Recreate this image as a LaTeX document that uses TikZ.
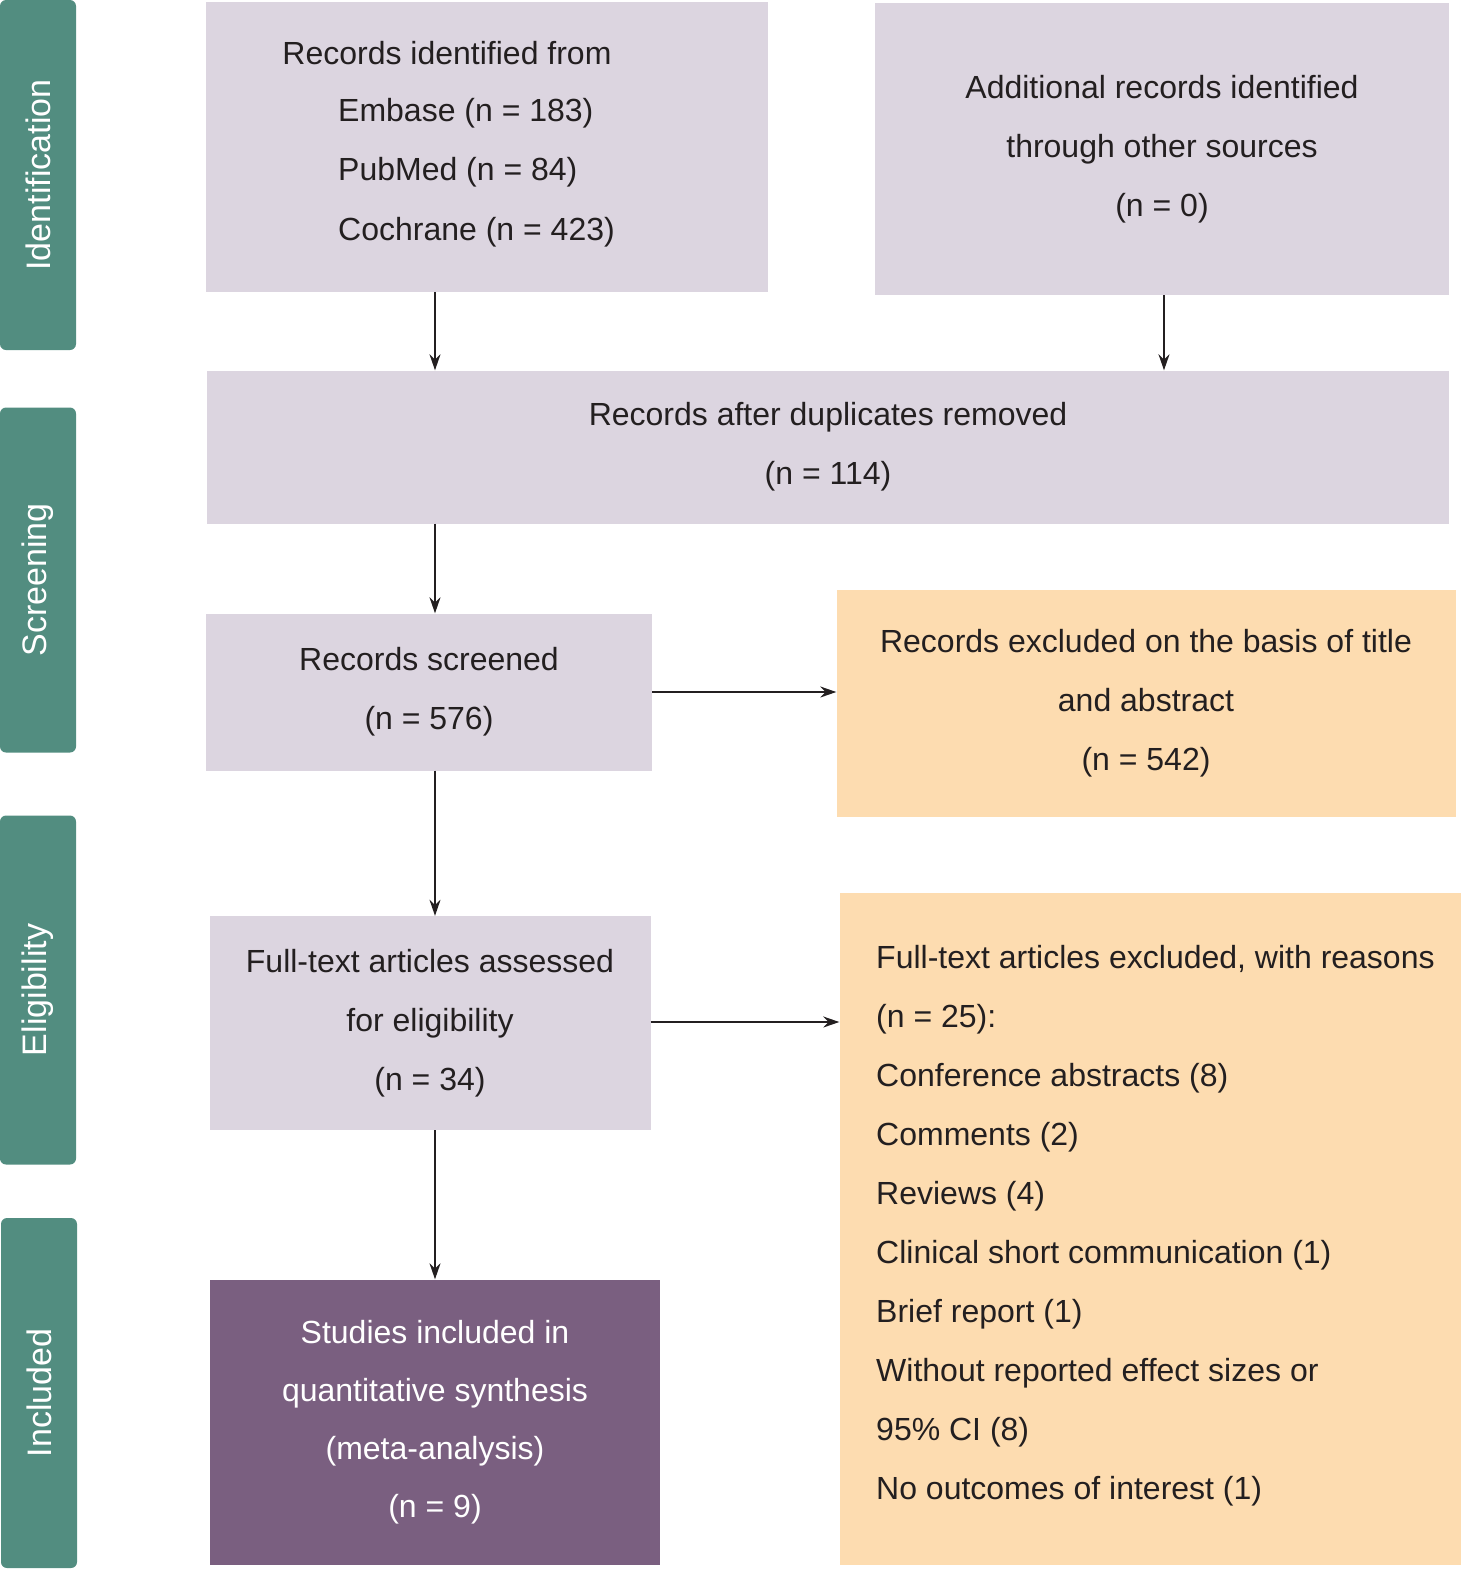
\documentclass[tikz,border=0pt]{standalone}
\usepackage{fontspec}
\setmainfont{Liberation Sans}
\usetikzlibrary{arrows.meta}
\definecolor{teal}{HTML}{528D80}
\definecolor{lilac}{HTML}{DCD5E0}
\definecolor{peach}{HTML}{FDDCB0}
\definecolor{plum}{HTML}{7A5F80}
\definecolor{txt}{HTML}{231F20}
\tikzset{
  side/.style={fill=teal,rounded corners=6pt,minimum width=76pt,inner sep=0pt},
  sidetext/.style={text=white,rotate=90,font=\fontsize{34}{40}\selectfont},
  lbox/.style={fill=lilac,inner sep=0pt,text=txt,align=center,font=\fontsize{32}{59}\selectfont},
  pbox/.style={fill=peach,inner sep=0pt,text=txt,align=center,font=\fontsize{32}{59}\selectfont},
  ibox/.style={fill=plum,inner sep=0pt,text=white,align=center,font=\fontsize{32}{58}\selectfont},
  ltext/.style={inner sep=0pt,text=txt,align=left,font=\fontsize{32}{59}\selectfont},
  arr/.style={-{Stealth[length=16pt,width=11pt]},line width=1.5pt,txt}
}
\begin{document}
\begin{tikzpicture}[x=1pt,y=-1pt]
\useasboundingbox (0,0) rectangle (1476,1585);
% side labels
\node[side,minimum height=350pt] (s1) at (38,175) {};
\node[sidetext] at (s1) {Identification};
\node[side,minimum height=345pt] (s2) at (38,580) {};
\node[sidetext] at (s2) {Screening};
\node[side,minimum height=349pt] (s3) at (38,990) {};
\node[sidetext] at (s3) {Eligibility};
\node[side,minimum height=350pt] (s4) at (39,1393) {};
\node[sidetext] at (s4) {Included};
% boxes
\node[lbox,minimum width=562pt,minimum height=290pt] (A) at (487,147) {};
\node[ltext] (a1) at (447,53) {Records identified from};
\node[ltext,anchor=west] (a2) at (338,113) {Embase (n = 183)};
\node[ltext,anchor=west] (a3) at (338,172) {PubMed (n = 84)};
\node[ltext,anchor=west] (a4) at (338,232) {Cochrane (n = 423)};
\node[lbox,minimum width=574pt,minimum height=292pt] (B) at (1162,149)
  {Additional records identified\\through other sources\\(n = 0)};
\node[lbox,minimum width=1242pt,minimum height=153pt] (C) at (828,447)
  {Records after duplicates removed\\(n = 114)};
\node[lbox,minimum width=446pt,minimum height=157pt] (D) at (429,692)
  {Records screened\\(n = 576)};
\node[pbox,minimum width=619pt,minimum height=227pt] (E) at (1146,703)
  {Records excluded on the basis of title\\and abstract\\(n = 542)};
\node[lbox,minimum width=441pt,minimum height=214pt] (F) at (430,1023)
  {Full-text articles assessed\\for eligibility\\(n = 34)};
\node[pbox,minimum width=621pt,minimum height=672pt] (G) at (1150,1229) {};
\node[ltext,anchor=west] (g) at (876,1226) {Full-text articles excluded, with reasons\\(n = 25):\\Conference abstracts (8)\\Comments (2)\\Reviews (4)\\Clinical short communication (1)\\Brief report (1)\\Without reported effect sizes or\\95\% CI (8)\\No outcomes of interest (1)};
\node[ibox,minimum width=450pt,minimum height=285pt] (H) at (435,1422)
  {Studies included in\\quantitative synthesis\\(meta-analysis)\\(n = 9)};
% arrows
\draw[arr] (A.south -| 435,0) -- (C.north -| 435,0);
\draw[arr] (B.south -| 1164,0) -- (C.north -| 1164,0);
\draw[arr] (C.south -| 435,0) -- (D.north -| 435,0);
\draw[arr] (D.east |- 0,692) -- (E.west |- 0,692);
\draw[arr] (D.south -| 435,0) -- (F.north -| 435,0);
\draw[arr] (F.east |- 0,1022) -- (G.west |- 0,1022);
\draw[arr] (F.south -| 435,0) -- (H.north -| 435,0);
\end{tikzpicture}
\end{document}
